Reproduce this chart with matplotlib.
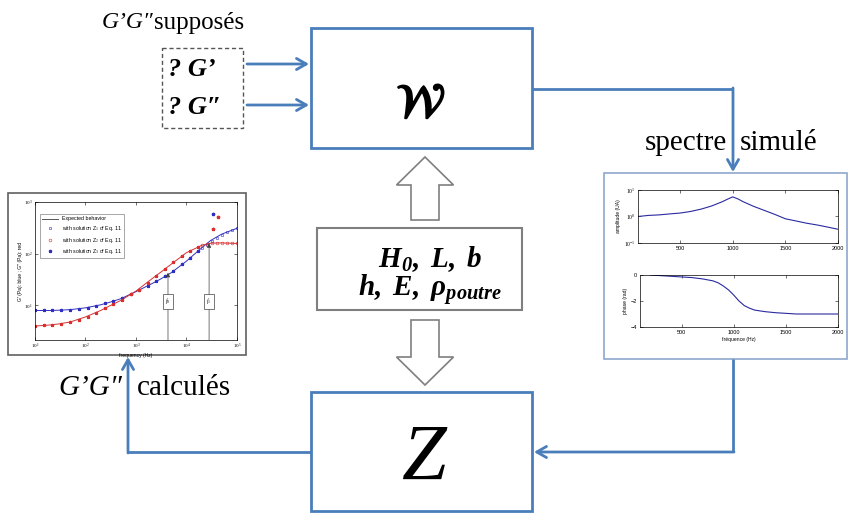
import matplotlib
matplotlib.use("Agg")
import matplotlib.pyplot as plt
from matplotlib import patches
from matplotlib import patheffects
from matplotlib.ticker import FixedLocator, NullLocator

plt.rcParams['font.family'] = ['Liberation Serif', 'DejaVu Serif']
plt.rcParams['mathtext.fontset'] = 'custom'
plt.rcParams['mathtext.rm'] = 'Liberation Serif'
plt.rcParams['mathtext.it'] = 'Liberation Serif:italic'
plt.rcParams['mathtext.bf'] = 'Liberation Serif:italic:bold'

# --- données de l'encart gauche (G', G'' en fonction de la fréquence) ---
freq_G = [10, 20, 30, 50, 100, 200, 300, 500, 1000, 2000, 3000, 5000,
          10000, 20000, 30000, 50000, 100000]
G_prime = [8.0, 8.0, 8.1, 8.3, 9.0, 10.3, 11.5, 13.5, 18.5, 26, 32, 43,
           72, 130, 180, 240, 310]
G_second = [4.0, 4.2, 4.4, 4.8, 6.0, 8.0, 9.8, 12.5, 19, 32, 43, 63,
            105, 145, 160, 162, 158]

freq_z3 = [10, 15, 22, 33, 50, 75, 110, 160, 240, 350, 520, 780, 1150,
           1700, 2500, 3700, 5500, 8000, 12000, 17000]
z3_prime = [8, 8, 8, 8.1, 8.3, 8.6, 9.1, 9.9, 11, 12.3, 14, 16.5, 19.5,
            24, 30, 37, 47, 62, 82, 115]
z3_second = [4, 4.1, 4.2, 4.4, 4.8, 5.3, 6.1, 7.2, 8.8, 10.5, 13, 16.5, 20,
             27, 37, 50, 68, 90, 112, 135]
freq_z12 = [20000, 25000, 32000, 40000, 50000, 63000, 80000, 100000]
z12_prime = [130, 150, 175, 200, 230, 260, 290, 310]
z12_second = [145, 152, 158, 160, 161, 160, 159, 158]
freq_out = [33000, 42000, 33000]
out_vals = [590, 520, 300]
out_cols = ['#3030c0', '#d83030', '#d83030']
f_marks = [4300, 28000]
f_tips = [43, 160]
f_names = ['$f_0$', '$f_1$']

# --- données de l'encart droit (spectre simulé) ---
freq_amp = [100, 200, 300, 400, 500, 600, 700, 800, 900, 950, 1000, 1050,
            1100, 1200, 1300, 1400, 1500, 1600, 1700, 1800, 1900, 2000]
amplitude = [1.0, 1.1, 1.15, 1.25, 1.35, 1.55, 1.9, 2.5, 3.6, 4.5, 5.5, 4.6,
             3.6, 2.4, 1.7, 1.2, 0.82, 0.68, 0.56, 0.48, 0.4, 0.33]
freq_phase = [200, 300, 400, 500, 600, 700, 800, 850, 900, 950, 1000, 1050,
              1100, 1150, 1200, 1300, 1400, 1500, 1600, 1800, 2000]
phase = [0.0, -0.05, -0.1, -0.15, -0.2, -0.3, -0.45, -0.6, -0.85, -1.15,
         -1.55, -2.0, -2.35, -2.55, -2.7, -2.82, -2.9, -2.95, -3.0, -3.0, -3.0]

W, H = 853, 513
BLUE = '#4a7ebb'
GRAY = '#7f7f7f'


def rect(x0, y0, x1, y1):
    return [x0 / W, 1 - y1 / H, (x1 - x0) / W, (y1 - y0) / H]


fig = plt.figure(figsize=(W / 100, H / 100), dpi=100)
ax = fig.add_axes([0, 0, 1, 1])
ax.set_xlim(0, W)
ax.set_ylim(H, 0)
ax.axis('off')

# boîtes W et Z
ax.add_patch(patches.Rectangle((311, 28), 221, 120, fill=False, ec=BLUE, lw=2))
ax.add_patch(patches.Rectangle((311, 392), 221, 119, fill=False, ec=BLUE, lw=2))
ax.text(421, 117, r'$\mathcal{W}$', math_fontfamily='stix', fontsize=34,
        ha='center', va='baseline',
        path_effects=[patheffects.withStroke(linewidth=1.3, foreground='black')])
ax.text(423, 480, 'Z', fontsize=58, style='italic', ha='center', va='baseline')

# paramètres
ax.add_patch(patches.Rectangle((317, 228), 205, 82, fill=False, ec=GRAY, lw=1.5))
ax.text(430, 267, r'$\mathbf{H_0,\ L,\ b}$', fontsize=21, ha='center', va='baseline')
ax.text(430, 297, r'$\mathbf{h,\ E,\ \rho_{poutre}}$', fontsize=21,
        ha='center', va='baseline')

# flèches creuses
for y0, dy in [(220, -63), (320, 65)]:
    ax.add_patch(patches.FancyArrow(425, y0, 0, dy, width=28, head_width=57,
                                    head_length=28, length_includes_head=True,
                                    fc='white', ec=GRAY, lw=1.2))

# entrées supposées
ax.text(102, 23, "G’G″", fontsize=17, style='italic', ha='left', va='center')
ax.text(244, 23, 'supposés', fontsize=18, ha='right', va='center')
ax.add_patch(patches.Rectangle((162, 48), 81, 80, fill=False, ec='#555555',
                               lw=1, ls=(0, (3, 2))))
ax.text(168, 70, "? G’", fontsize=19, style='italic', weight='bold', va='center')
ax.text(168, 107, "? G″", fontsize=19, style='italic', weight='bold', va='center')

arrow_kw = dict(arrowstyle='->,head_length=0.7,head_width=0.4', color=BLUE,
                lw=2, shrinkA=0, shrinkB=0)
for y in [64, 105]:
    ax.annotate('', xy=(309, y), xytext=(247, y), arrowprops=arrow_kw)

# W -> spectre simulé
ax.plot([532, 733], [89, 89], color=BLUE, lw=2, solid_capstyle='butt')
ax.annotate('', xy=(733, 172), xytext=(733, 88), arrowprops=arrow_kw)
ax.text(727, 143, 'spectre', fontsize=21, ha='right', va='center')
ax.text(740, 143, 'simulé', fontsize=21, ha='left', va='center')

# spectre -> Z
ax.plot([733, 733], [359, 452], color=BLUE, lw=2, solid_capstyle='butt')
ax.annotate('', xy=(534, 452), xytext=(734, 452), arrowprops=arrow_kw)

# Z -> G'G'' calculés
ax.plot([311, 128], [452, 452], color=BLUE, lw=2, solid_capstyle='butt')
ax.annotate('', xy=(128, 357), xytext=(128, 453), arrowprops=arrow_kw)
ax.text(122, 388, "G’G″", fontsize=21, style='italic', ha='right', va='center')
ax.text(137, 388, 'calculés', fontsize=21, ha='left', va='center')

# cadres des encarts
ax.add_patch(patches.Rectangle((8, 193), 238, 162, fc='white', ec='#606060', lw=1.2))
ax.add_patch(patches.Rectangle((604, 173), 243, 186, fc='white', ec='#8fa8cc', lw=1.2))

SMALL = dict(family='Liberation Sans', fontsize=3.6)

# --- encart gauche ---
axl = fig.add_axes(rect(35, 202, 237, 340))
axl.set_xscale('log')
axl.set_yscale('log')
axl.plot(freq_G, G_prime, color='#3030c0', lw=0.7, label='Expected behavior')
axl.plot(freq_G, G_second, color='#d83030', lw=0.7)
axl.plot(freq_z12, z12_prime, 's', ms=2, mfc='none', mec='#3030c0', mew=0.4,
         label='with solution Z$_1$ of Eq. 11')
axl.plot(freq_z12, z12_second, 'o', ms=2, mfc='none', mec='#d83030', mew=0.4,
         label='with solution Z$_2$ of Eq. 11')
axl.plot(freq_z3, z3_prime, '*', ms=2.2, color='#3030c0',
         label='with solution Z$_3$ of Eq. 11')
axl.plot(freq_z3, z3_second, '*', ms=2.2, color='#d83030')
for fx, fy, c in zip(freq_out, out_vals, out_cols):
    axl.plot(fx, fy, '*', ms=2.4, color=c)
for fx, tip, name in zip(f_marks, f_tips, f_names):
    axl.annotate('', xy=(fx, tip), xytext=(fx, 2.15),
                 arrowprops=dict(arrowstyle='-|>,head_length=0.25,head_width=0.12',
                                 color='#404040', lw=0.5, shrinkA=0, shrinkB=0))
    axl.text(fx, 12, name, fontsize=4, ha='center', va='center',
             bbox=dict(boxstyle='square,pad=0.5', fc='white', ec='#404040', lw=0.5))
axl.set_xlim(10, 1e5)
axl.set_ylim(2.15, 1000)
axl.xaxis.set_major_locator(FixedLocator([10, 100, 1000, 10000, 100000]))
axl.yaxis.set_major_locator(FixedLocator([10, 100, 1000]))
axl.xaxis.set_minor_locator(NullLocator())
axl.yaxis.set_minor_locator(NullLocator())
axl.set_xticklabels(['$10^1$', '$10^2$', '$10^3$', '$10^4$', '$10^5$'], fontsize=3.6)
axl.set_yticklabels(['$10^1$', '$10^2$', '$10^3$'], fontsize=3.6)
axl.tick_params(direction='in', length=2, width=0.4, pad=1.5, top=True, right=True)
axl.set_xlabel('frequency (Hz)', labelpad=1, **SMALL)
axl.set_ylabel("G' (Pa): blue ; G'' (Pa): red", labelpad=1, **SMALL)
for s in axl.spines.values():
    s.set_linewidth(0.5)
leg = axl.legend(loc='upper left', prop=dict(family='Liberation Sans', size=3.8),
                 frameon=True, fancybox=False, edgecolor='#404040',
                 handlelength=3, borderpad=0.4, labelspacing=0.5,
                 bbox_to_anchor=(0.01, 0.93))
leg.get_frame().set_linewidth(0.4)
leg.legend_handles[0].set_color('#555555')

# --- encart droit ---
axa = fig.add_axes(rect(638, 190, 838, 243))
axa.semilogy(freq_amp, amplitude, color='#2a2aa0', lw=0.8)
axa.set_xlim(100, 2000)
axa.set_ylim(0.1, 10)
axa.yaxis.set_major_locator(FixedLocator([0.1, 1, 10]))
axa.yaxis.set_minor_locator(NullLocator())
axa.set_yticklabels(['$10^{-1}$', '$10^{0}$', '$10^{1}$'], fontsize=4)
axa.set_ylabel('amplitude (UA)', labelpad=2, **SMALL)

axp = fig.add_axes(rect(640, 275, 838, 327))
axp.plot(freq_phase, phase, color='#2a2aa0', lw=0.8)
axp.set_xlim(100, 2000)
axp.set_ylim(-4, 0)
axp.yaxis.set_major_locator(FixedLocator([-4, -2, 0]))
axp.set_ylabel('phase (rad)', labelpad=2, **SMALL)
axp.set_xlabel('fréquence (Hz)', labelpad=1.5, **SMALL)

for a in (axa, axp):
    a.xaxis.set_major_locator(FixedLocator([500, 1000, 1500, 2000]))
    a.tick_params(direction='in', length=2, width=0.4, pad=2, labelsize=4,
                  top=True, right=True)
    for lab in a.get_xticklabels() + a.get_yticklabels():
        lab.set_family('Liberation Sans')
    for s in a.spines.values():
        s.set_linewidth(0.5)

fig.savefig('out.png', dpi=100)
